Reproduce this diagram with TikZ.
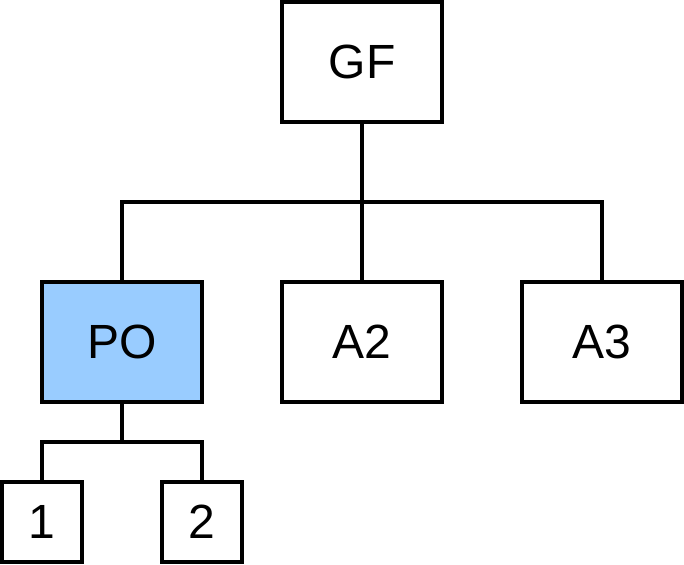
\documentclass[tikz,border=0pt]{standalone}
\usepackage{fontspec}
\setmainfont{Liberation Sans}
\definecolor{pofill}{HTML}{99CCFF}
\begin{document}
\begin{tikzpicture}[x=1pt,y=-1pt,
  box/.style={draw=black,line width=3.5pt,fill=white,minimum width=160pt,minimum height=120pt,inner sep=0pt,font=\fontsize{48}{52}\selectfont},
  smallbox/.style={box,minimum width=80pt,minimum height=80pt},
  conn/.style={line width=3.5pt}]
\useasboundingbox (0,0) rectangle (684,564);
\node[box] (gf) at (362,62) {GF};
\node[box,fill=pofill] (po) at (122,342) {PO};
\node[box] (a2) at (362,342) {A2};
\node[box] (a3) at (602,342) {A3};
\node[smallbox] (c1) at (42,522) {1};
\node[smallbox] (c2) at (202,522) {2};
\coordinate (j1) at (362,202);
\coordinate (j2) at (122,442);
\draw[conn] (gf.south) -- (j1);
\draw[conn] (po.north) |- (j1) -| (a3.north);
\draw[conn] (j1) -- (a2.north);
\draw[conn] (po.south) -- (j2);
\draw[conn] (c1.north) |- (j2) -| (c2.north);
\end{tikzpicture}
\end{document}
